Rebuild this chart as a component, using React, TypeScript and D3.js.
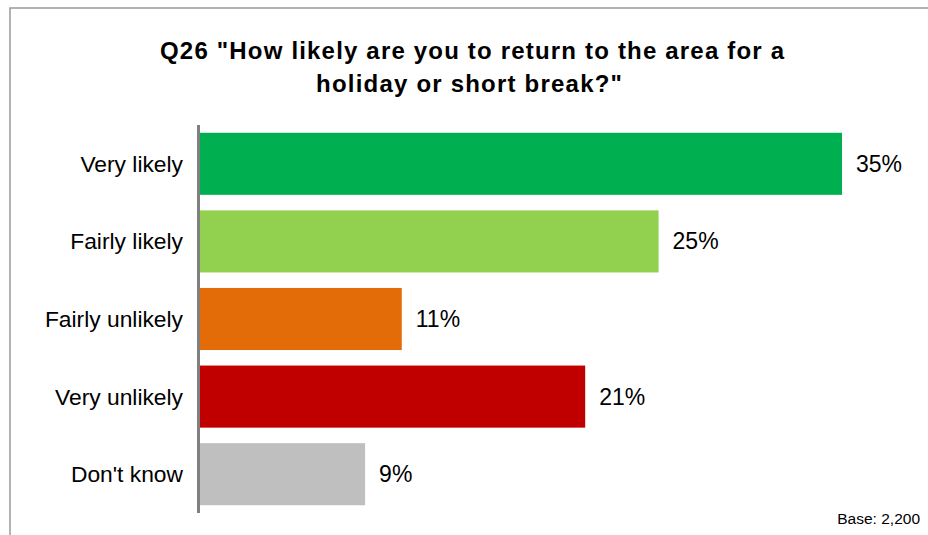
import React from "react";
import * as d3 from "d3";

const categories = ["Very likely", "Fairly likely", "Fairly unlikely", "Very unlikely", "Don't know"];
const values = [35, 25, 11, 21, 9];
const colors = ["#00B050", "#92D050", "#E36C09", "#C00000", "#BFBFBF"];
const titleLines = ["Q26 \"How likely are you to return to the area for a", "holiday or short break?\""];
const baseNote = "Base: 2,200";

export default function App() {
  const W = 928, H = 535;
  const x0 = 200;
  const x = d3.scaleLinear().domain([0, 35]).range([x0, 842]);
  const y = d3.scaleBand<string>().domain(categories).range([125, 513]).paddingInner(0.2).paddingOuter(0.1);
  const font = "'Liberation Sans', Arial, sans-serif";
  const titleX = [160, 316];
  const titleW = [624, 306];
  return (
    <svg width={W} height={H} style={{ position: "absolute", left: 0, top: 0 }} fontFamily={font}>
      <rect x={10} y={8} width={W} height={H} fill="#fff" stroke="#999" strokeWidth={1.5} />
      {titleLines.map((t, i) => (
        <text key={i} x={titleX[i]} y={59 + i * 33} textAnchor="start" fontSize={24} fontWeight="bold" fill="#000"
          textLength={titleW[i]} lengthAdjust="spacing">{t}</text>
      ))}
      {categories.map((c, i) => (
        <g key={c}>
          <rect x={x0} y={y(c)!} width={x(values[i]) - x0} height={y.bandwidth()} fill={colors[i]} />
          <text x={183} y={y(c)! + y.bandwidth() / 2} dy="0.35em" textAnchor="end" fontSize={22.8} fill="#000">{c}</text>
          <text x={x(values[i]) + 14} y={y(c)! + y.bandwidth() / 2} dy="0.35em" textAnchor="start" fontSize={23} fill="#000">{values[i]}%</text>
        </g>
      ))}
      <line x1={198.5} x2={198.5} y1={125} y2={513} stroke="#808080" strokeWidth={3} />
      <text x={920} y={524} textAnchor="end" fontSize={15.5} fill="#000">{baseNote}</text>
    </svg>
  );
}
